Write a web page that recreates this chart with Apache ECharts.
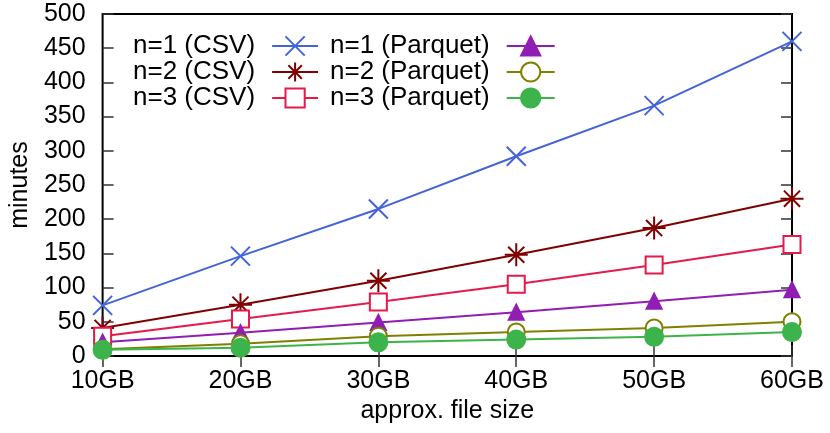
<!DOCTYPE html>
<html>
<head>
<meta charset="utf-8">
<script src="https://cdn.jsdelivr.net/npm/echarts@6/dist/echarts.min.js"></script>
<style>
  html, body { margin: 0; padding: 0; background: #fff; }
  #chart { width: 830px; height: 433px; }
</style>
</head>
<body>
<div id="chart"></div>
<script>
const sizes = ["10GB", "20GB", "30GB", "40GB", "50GB", "60GB"];

// minutes per run
const csv1 = [74, 146, 215, 292, 366, 460];
const csv2 = [41, 75, 110, 148, 187, 230];
const csv3 = [29, 54, 79, 105, 133, 163];
const parquet1 = [20, 34, 49, 64, 80, 97];
const parquet2 = [10, 18, 29, 35, 41, 50];
const parquet3 = [9, 12, 20, 24, 28, 35];

const font = "'Liberation Sans', Arial, sans-serif";

const crossPath = 'path://M0,0L10,10M10,0L0,10';
const starPath = 'path://M0,5L10,5M5,0L5,10M1.5,1.5L8.5,8.5M8.5,1.5L1.5,8.5';

function serie(name, data, color, symbol, size, fill) {
  return {
    name: name,
    type: 'line',
    data: data,
    symbol: symbol,
    symbolSize: size,
    showAllSymbol: true,
    lineStyle: { color: color, width: 2 },
    itemStyle: {
      color: fill || color,
      borderColor: color,
      borderWidth: 2
    },
    emphasis: { disabled: true },
    z: 3
  };
}

const chart = echarts.init(document.getElementById('chart'));

const tickStyle = { show: true, inside: true, length: 11, lineStyle: { color: '#333', width: 1.5 } };
const legendText = { fontSize: 26, color: '#000', fontFamily: font, padding: [0, 12, 0, 0] };

chart.setOption({
  animation: false,
  textStyle: { fontFamily: font },
  grid: {
    left: 100, right: 38, top: 14, bottom: 77,
    show: true, borderColor: '#000', borderWidth: 2
  },
  legend: [
    {
      orient: 'vertical',
      left: 128, top: 28,
      align: 'right',
      itemWidth: 46, itemHeight: 24, itemGap: 0,
      textStyle: legendText,
      data: ['n=1 (CSV)', 'n=2 (CSV)', 'n=3 (CSV)']
    },
    {
      orient: 'vertical',
      left: 325, top: 28,
      align: 'right',
      itemWidth: 48, itemHeight: 24, itemGap: 0,
      textStyle: legendText,
      data: ['n=1 (Parquet)', 'n=2 (Parquet)', 'n=3 (Parquet)']
    }
  ],
  xAxis: [
    {
      type: 'category',
      data: sizes,
      boundaryGap: false,
      axisLine: { show: false },
      axisTick: tickStyle,
      axisLabel: { fontSize: 25, color: '#000', margin: 13 },
      name: 'approx. file size',
      nameLocation: 'middle',
      nameGap: 42,
      nameTextStyle: { fontSize: 25, color: '#000' }
    },
    {
      type: 'category',
      data: sizes,
      position: 'top',
      boundaryGap: false,
      axisLine: { show: false },
      axisTick: tickStyle,
      axisLabel: { show: false }
    }
  ],
  yAxis: [
    {
      type: 'value',
      min: 0, max: 500, interval: 50,
      splitLine: { show: false },
      axisLine: { show: false },
      axisTick: tickStyle,
      axisLabel: { fontSize: 25, color: '#000', margin: 17 },
      name: 'minutes',
      nameLocation: 'middle',
      nameGap: 64,
      nameTextStyle: { fontSize: 25, color: '#000' }
    },
    {
      type: 'value',
      position: 'right',
      min: 0, max: 500, interval: 50,
      splitLine: { show: false },
      axisLine: { show: false },
      axisTick: tickStyle,
      axisLabel: { show: false }
    }
  ],
  series: [
    serie('n=1 (CSV)', csv1, '#4363d8', crossPath, 19),
    serie('n=2 (CSV)', csv2, '#800000', starPath, 23),
    serie('n=3 (CSV)', csv3, '#e6194b', 'rect', 17, '#fff'),
    serie('n=1 (Parquet)', parquet1, '#911eb4', 'triangle', 15),
    serie('n=2 (Parquet)', parquet2, '#808000', 'circle', 17, '#fff'),
    serie('n=3 (Parquet)', parquet3, '#3cb44b', 'circle', 18)
  ]
});
</script>
</body>
</html>
